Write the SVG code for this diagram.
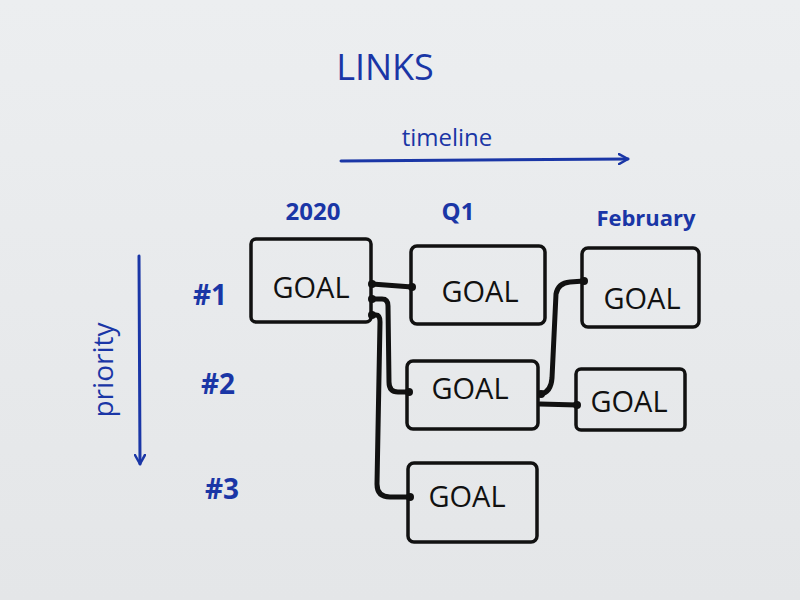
<svg xmlns="http://www.w3.org/2000/svg" width="800" height="600" viewBox="0 0 800 600">
<defs>
<linearGradient id="paper" x1="0" y1="0" x2="0" y2="1">
<stop offset="0" stop-color="#eceef0"/>
<stop offset="1" stop-color="#e4e6e8"/>
</linearGradient>
<marker id="chev" viewBox="0 0 12 12" refX="10" refY="6" markerWidth="12" markerHeight="12" markerUnits="userSpaceOnUse" orient="auto">
<path d="M1,1 L10,6 L1,11" fill="none" stroke="#1a36a6" stroke-width="2.5" stroke-linecap="round" stroke-linejoin="round"/>
</marker>
</defs>
<style>
.blue{fill:#1a36a6;font-family:"Open Sans","DejaVu Sans",sans-serif;}
.goal{fill:#111;font-family:"Open Sans","DejaVu Sans",sans-serif;font-size:29px;text-anchor:middle;}
.box{fill:none;stroke:#111;stroke-width:3.5;stroke-linejoin:round;}
.link{fill:none;stroke:#111;stroke-width:5;stroke-linecap:round;stroke-linejoin:round;}
.dot{fill:#111;}
.axis{fill:none;stroke:#1a36a6;stroke-width:3;stroke-linecap:round;}
</style>
<rect width="800" height="600" fill="url(#paper)"/>

<g id="title"><text class="blue" x="385" y="80" font-size="36" text-anchor="middle">LINKS</text></g>
<g id="timeline-axis">
<text class="blue" x="447" y="146" font-size="24" text-anchor="middle">timeline</text>
<path class="axis" d="M341,161 L628,159" marker-end="url(#chev)"/>
</g>
<g id="priority-axis">
<text class="blue" x="113" y="370" font-size="28" text-anchor="middle" transform="rotate(-90 113 370)">priority</text>
<path class="axis" d="M139,256 L140,464" marker-end="url(#chev)"/>
</g>
<g id="column-labels">
<text class="blue" x="313" y="220" font-size="24" font-weight="bold" text-anchor="middle">2020</text>
<text class="blue" x="458" y="220" font-size="24" font-weight="bold" text-anchor="middle">Q1</text>
<text class="blue" x="646" y="226" font-size="22" font-weight="bold" text-anchor="middle">February</text>
</g>
<g id="row-labels">
<text class="blue" x="210" y="305" font-size="28" font-weight="bold" text-anchor="middle">#1</text>
<text class="blue" x="218" y="394" font-size="28" font-weight="bold" text-anchor="middle">#2</text>
<text class="blue" x="222" y="499" font-size="28" font-weight="bold" text-anchor="middle">#3</text>
</g>

<g id="connectors">
<path class="link" d="M372,284 L412,287"/>
<path class="link" d="M372,299 L382,299 Q388,299 388,306 L389,382 Q389,392 398,392 L409,392"/>
<path class="link" d="M372,315 L376,315 Q380,315 380,322 L377,484 Q377,497 390,497 L410,497"/>
<path class="link" d="M541,394 Q551,392 552,378 L556,294 Q558,283 570,282 L584,281"/>
<path class="link" d="M540,404 L577,405"/>
<circle class="dot" cx="372" cy="284" r="4"/>
<circle class="dot" cx="412" cy="287" r="4"/>
<circle class="dot" cx="372" cy="299" r="4"/>
<circle class="dot" cx="409" cy="392" r="4"/>
<circle class="dot" cx="372" cy="315" r="4"/>
<circle class="dot" cx="410" cy="497" r="4"/>
<circle class="dot" cx="541" cy="394" r="4"/>
<circle class="dot" cx="584" cy="281" r="4"/>
<circle class="dot" cx="577" cy="405" r="4"/>
</g>

<g id="goal-2020-1"><rect class="box" x="251" y="239" width="120" height="83" rx="5"/><text class="goal" x="311" y="298">GOAL</text></g>
<g id="goal-q1-1"><rect class="box" x="411" y="246" width="134" height="78" rx="6"/><text class="goal" x="480" y="302">GOAL</text></g>
<g id="goal-q1-2"><rect class="box" x="407" y="361" width="131" height="68" rx="6"/><text class="goal" x="470" y="399">GOAL</text></g>
<g id="goal-q1-3"><rect class="box" x="408" y="463" width="129" height="79" rx="6"/><text class="goal" x="467" y="507">GOAL</text></g>
<g id="goal-feb-1"><rect class="box" x="582" y="248" width="117" height="79" rx="6"/><text class="goal" x="642" y="309">GOAL</text></g>
<g id="goal-feb-2"><rect class="box" x="576" y="369" width="109" height="61" rx="5"/><text class="goal" x="629" y="412">GOAL</text></g>
</svg>
